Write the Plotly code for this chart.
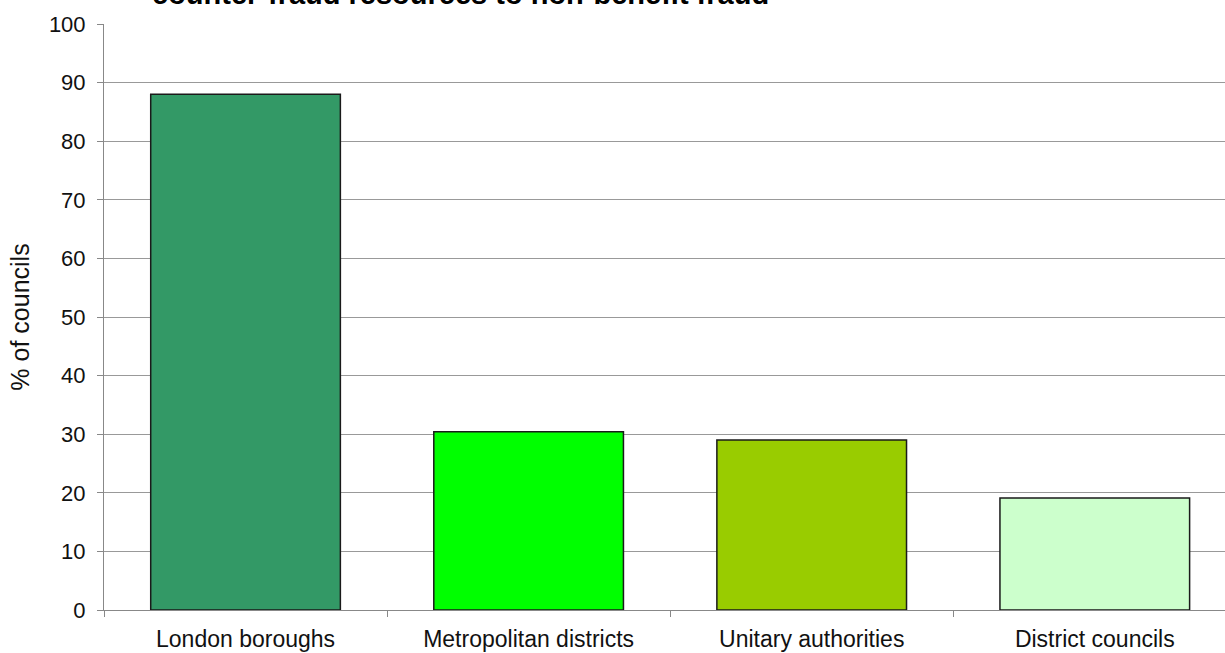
import plotly.graph_objects as go

categories = ["London boroughs", "Metropolitan districts", "Unitary authorities", "District councils"]
values = [88, 30.4, 29.0, 19.1]
colors = ["#339966", "#00FF00", "#99CC00", "#CCFFCC"]
y_ticks = list(range(0, 101, 10))
title_text = "counter-fraud resources to non-benefit fraud"

fig = go.Figure()
fig.add_trace(go.Bar(
    x=categories, y=values,
    marker=dict(color=colors, line=dict(color="#1a1a1a", width=1.5)),
    width=0.67,
))

fig.update_layout(
    width=1225, height=653,
    margin=dict(l=104, r=0, t=24, b=43),
    paper_bgcolor="white", plot_bgcolor="white",
    showlegend=False,
    font=dict(family="Liberation Sans, Arial, sans-serif", color="#111111"),
)
fig.update_xaxes(
    range=[-0.5, 3.46],
    showline=True, linecolor="#888888", linewidth=1,
    ticks="outside", tickson="boundaries", ticklen=6, tickcolor="#888888",
    tickfont=dict(size=23), ticklabelstandoff=8,
    showgrid=False,
)
fig.update_yaxes(
    range=[0, 100], tickvals=y_ticks,
    showline=True, linecolor="#888888", linewidth=1,
    ticks="outside", ticklen=6, tickcolor="#888888",
    showgrid=True, gridcolor="#999999", gridwidth=1,
    tickfont=dict(size=22), ticklabelstandoff=7,
    title=dict(text="% of councils", font=dict(size=25), standoff=12),
    zeroline=False,
)
fig.add_annotation(
    text="<b>" + title_text + "</b>",
    xref="paper", yref="paper", x=0.041, y=1.021,
    xanchor="left", yanchor="bottom", showarrow=False,
    font=dict(size=29, color="#000000"),
)
fig.write_html("out.html")
